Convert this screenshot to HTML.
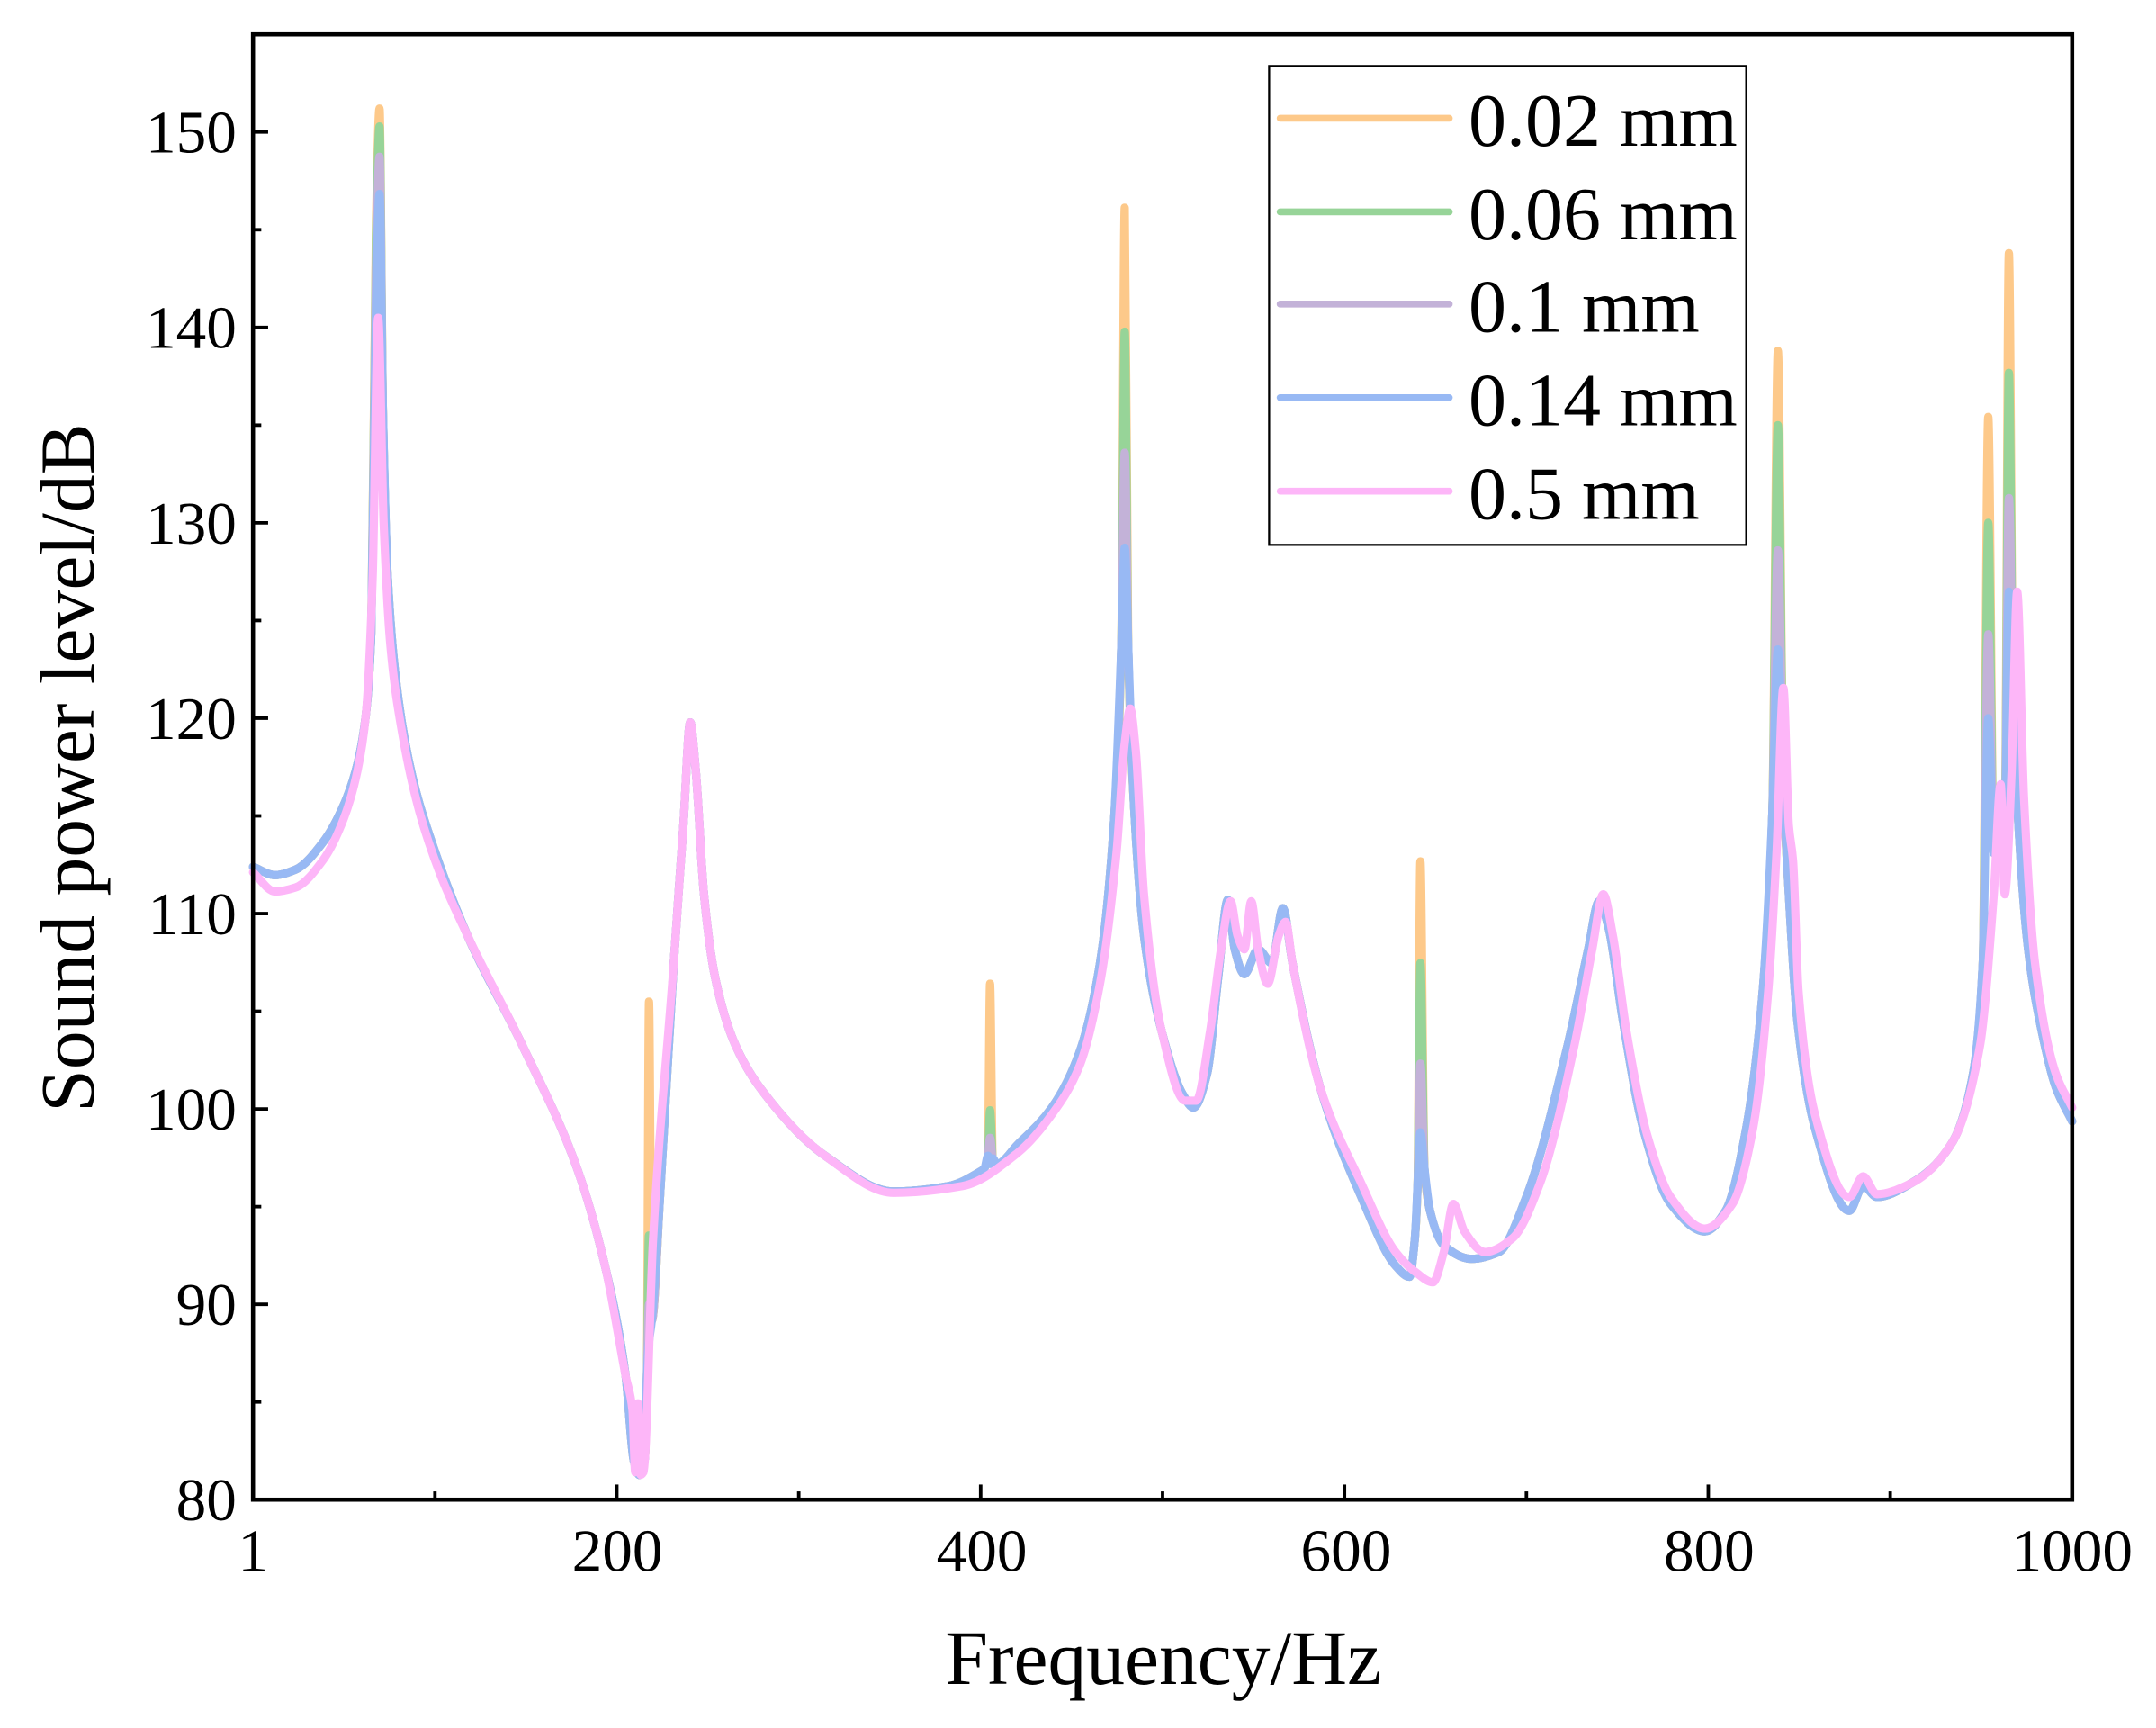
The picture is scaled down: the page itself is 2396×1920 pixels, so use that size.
<!DOCTYPE html>
<html><head><meta charset="utf-8"><style>
html,body{margin:0;padding:0;background:#fff;}
svg{display:block;}
text{font-family:"Liberation Serif","DejaVu Serif",serif;fill:#000;}
</style></head><body>
<svg id="s" width="2396" height="1920" viewBox="0 0 1568 1256" preserveAspectRatio="none" xmlns="http://www.w3.org/2000/svg">
<rect x="0" y="0" width="1568" height="1256" fill="#fff"/>
<g id="curves" fill="none" stroke-linejoin="round" stroke-linecap="round"></g>
<rect x="184" y="25" width="1323" height="1065" fill="none" stroke="#000" stroke-width="3"/>
<g id="ticks" stroke="#000" stroke-width="2.5"></g>
<g font-size="44" text-anchor="middle">
<text x="184" y="1142">1</text><text x="449" y="1142">200</text><text x="714" y="1142">400</text>
<text x="979" y="1142">600</text><text x="1243" y="1142">800</text><text x="1507" y="1142">1000</text>
</g>
<g font-size="44" text-anchor="end">
<text x="172" y="1105">80</text><text x="172" y="963">90</text><text x="172" y="821">100</text>
<text x="172" y="679">110</text><text x="172" y="537">120</text><text x="172" y="395">130</text>
<text x="172" y="253">140</text><text x="172" y="111">150</text>
</g>
<text x="846" y="1224" font-size="56" text-anchor="middle">Frequency/Hz</text>
<text transform="translate(68,558) rotate(-90)" font-size="56" text-anchor="middle">Sound power level/dB</text>
<rect x="923" y="48" width="347" height="348" fill="#fff" stroke="#000" stroke-width="1.5"/>
<g stroke-width="5" stroke-linecap="round">
<line x1="931" y1="86" x2="1054" y2="86" stroke="#fdc98a"/>
<line x1="931" y1="154" x2="1054" y2="154" stroke="#97d498"/>
<line x1="931" y1="221" x2="1054" y2="221" stroke="#c3b2d8"/>
<line x1="931" y1="289" x2="1054" y2="289" stroke="#98b9f4"/>
<line x1="931" y1="357" x2="1054" y2="357" stroke="#fdb6f8"/>
</g>
<g font-size="55">
<text x="1068" y="106">0.02 mm</text><text x="1068" y="174">0.06 mm</text>
<text x="1068" y="241">0.1 mm</text><text x="1068" y="309">0.14 mm</text>
<text x="1068" y="377">0.5 mm</text>
</g>
</svg>
<script>
var NS="http://www.w3.org/2000/svg";
var tk=document.getElementById("ticks");
function ln(x1,y1,x2,y2){var l=document.createElementNS(NS,"line");l.setAttribute("x1",x1);l.setAttribute("y1",y1);l.setAttribute("x2",x2);l.setAttribute("y2",y2);tk.appendChild(l);}
for(var i=0;i<=10;i++){var x=184+i*132.3;ln(x,1090,x,1090-(i%2?6:11));}
for(var j=0;j<=14;j++){var y=1090-j*71;ln(184,y,184+(j%2?6:11),y);}
var base=[[184,630],[200,636],[215,632],[235,612],[250,585],[260,555],[266,520],[270,460],[273.5,'P0'],[276,'K0'],[278.5,300],[282,420],[290,510],[300,565],[315,615],[340,680],[380,760],[420,850],[440,920],[455,1000],[461,1062],[465,1072],[469,1060],[470.5,1000],[472,'K1'],[474,960],[480,870],[490,700],[497,600],[502,525],[506,560],[512,650],[520,710],[535,760],[560,800],[600,840],[650,866],[690,862],[712,852],[716,849],[718.5,840],[720,'K2'],[722,842],[725,846],[740,832],[765,805],[785,765],[800,700],[810,600],[815.5,470],[818,'K3'],[820.5,470],[825,590],[832,680],[845,750],[860,795],[868,805],[878,780],[886,710],[893,654],[898,690],[905,708],[915,690],[925,700],[933,660],[940,700],[960,790],[990,870],[1015,920],[1025,928],[1029,900],[1031,860],[1033,'K4'],[1036,850],[1040,880],[1050,905],[1070,915],[1090,910],[1110,870],[1140,760],[1155,690],[1163,655],[1170,675],[1180,740],[1195,820],[1215,875],[1240,895],[1255,880],[1270,820],[1282,720],[1289,590],[1293,'K5'],[1297,570],[1301,650],[1307,740],[1320,820],[1345,880],[1355,862],[1365,870],[1390,860],[1420,830],[1435,780],[1442,700],[1446,'K6'],[1450,620],[1455,610],[1458,600],[1461,'K7'],[1464,500],[1468,600],[1475,690],[1485,750],[1495,790],[1507,815]];
var peaks={o:[79,728,715,151,626,255,303,184],g:[92,898,807,241,700,309,380,271],p:[114,948,827,329,773,400,461,362],b:[141,976,846,398,823,472,522,430]};
function pts(pk){return base.map(function(p){var y=p[1];if(y==='P0'){y=Math.min(pk[0]+80,300);}else if(typeof y==='string'){y=pk[+y.slice(1)];}return [p[0],y];});}
var pink=[[184,634],[200,648],[215,645],[235,625],[250,595],[260,560],[266,520],[271,420],[275,231],[279,380],[284,470],[292,530],[305,590],[320,635],[340,680],[380,760],[420,850],[440,920],[455,1000],[460,1025],[462,1070],[464,1020],[466,1072],[468,1070],[475,900],[490,700],[497,600],[502,525],[506,560],[512,650],[520,710],[535,760],[560,800],[600,840],[650,867],[700,862],[740,838],[765,810],[785,775],[800,715],[812,620],[818,540],[822,515],[826,545],[832,650],[845,750],[862,800],[870,800],[880,750],[888,690],[895,655],[900,680],[905,690],[910,655],[915,690],[922,715],[930,680],[935,670],[940,700],[960,790],[990,860],[1015,910],[1030,925],[1042,932],[1050,910],[1057,875],[1065,895],[1080,910],[1100,900],[1120,860],[1145,760],[1158,690],[1166,650],[1173,680],[1183,750],[1198,825],[1215,870],[1240,893],[1260,875],[1275,820],[1286,720],[1292,620],[1297,500],[1301,600],[1304,625],[1308,720],[1320,810],[1345,870],[1355,855],[1365,868],[1390,860],[1420,830],[1440,760],[1450,650],[1455,570],[1458,650],[1463,560],[1467,430],[1472,580],[1480,700],[1495,780],[1507,805]];
function mono(P){var n=P.length,d=[],m=[];for(var i=0;i<n-1;i++)d.push((P[i+1][1]-P[i][1])/(P[i+1][0]-P[i][0]));m[0]=d[0];m[n-1]=d[n-2];for(i=1;i<n-1;i++){if(d[i-1]*d[i]<=0)m[i]=0;else{var w1=2*(P[i+1][0]-P[i][0])+(P[i][0]-P[i-1][0]),w2=(P[i+1][0]-P[i][0])+2*(P[i][0]-P[i-1][0]);m[i]=(w1+w2)/(w1/d[i-1]+w2/d[i]);}}
var s="M"+P[0][0]+","+P[0][1];for(i=0;i<n-1;i++){var h=P[i+1][0]-P[i][0];s+="C"+(P[i][0]+h/3)+","+(P[i][1]+m[i]*h/3)+" "+(P[i+1][0]-h/3)+","+(P[i+1][1]-m[i+1]*h/3)+" "+P[i+1][0]+","+P[i+1][1];}return s;}
var g=document.getElementById("curves");
function pl(P,c){var e=document.createElementNS(NS,"path");e.setAttribute("d",mono(P));e.setAttribute("stroke",c);e.setAttribute("stroke-width","6");g.appendChild(e);}
pl(pts(peaks.o),"#fdc98a");pl(pts(peaks.g),"#97d498");pl(pts(peaks.p),"#c3b2d8");pl(pts(peaks.b),"#98b9f4");
pl(pink,"#fdb6f8");
</script>
</body></html>
